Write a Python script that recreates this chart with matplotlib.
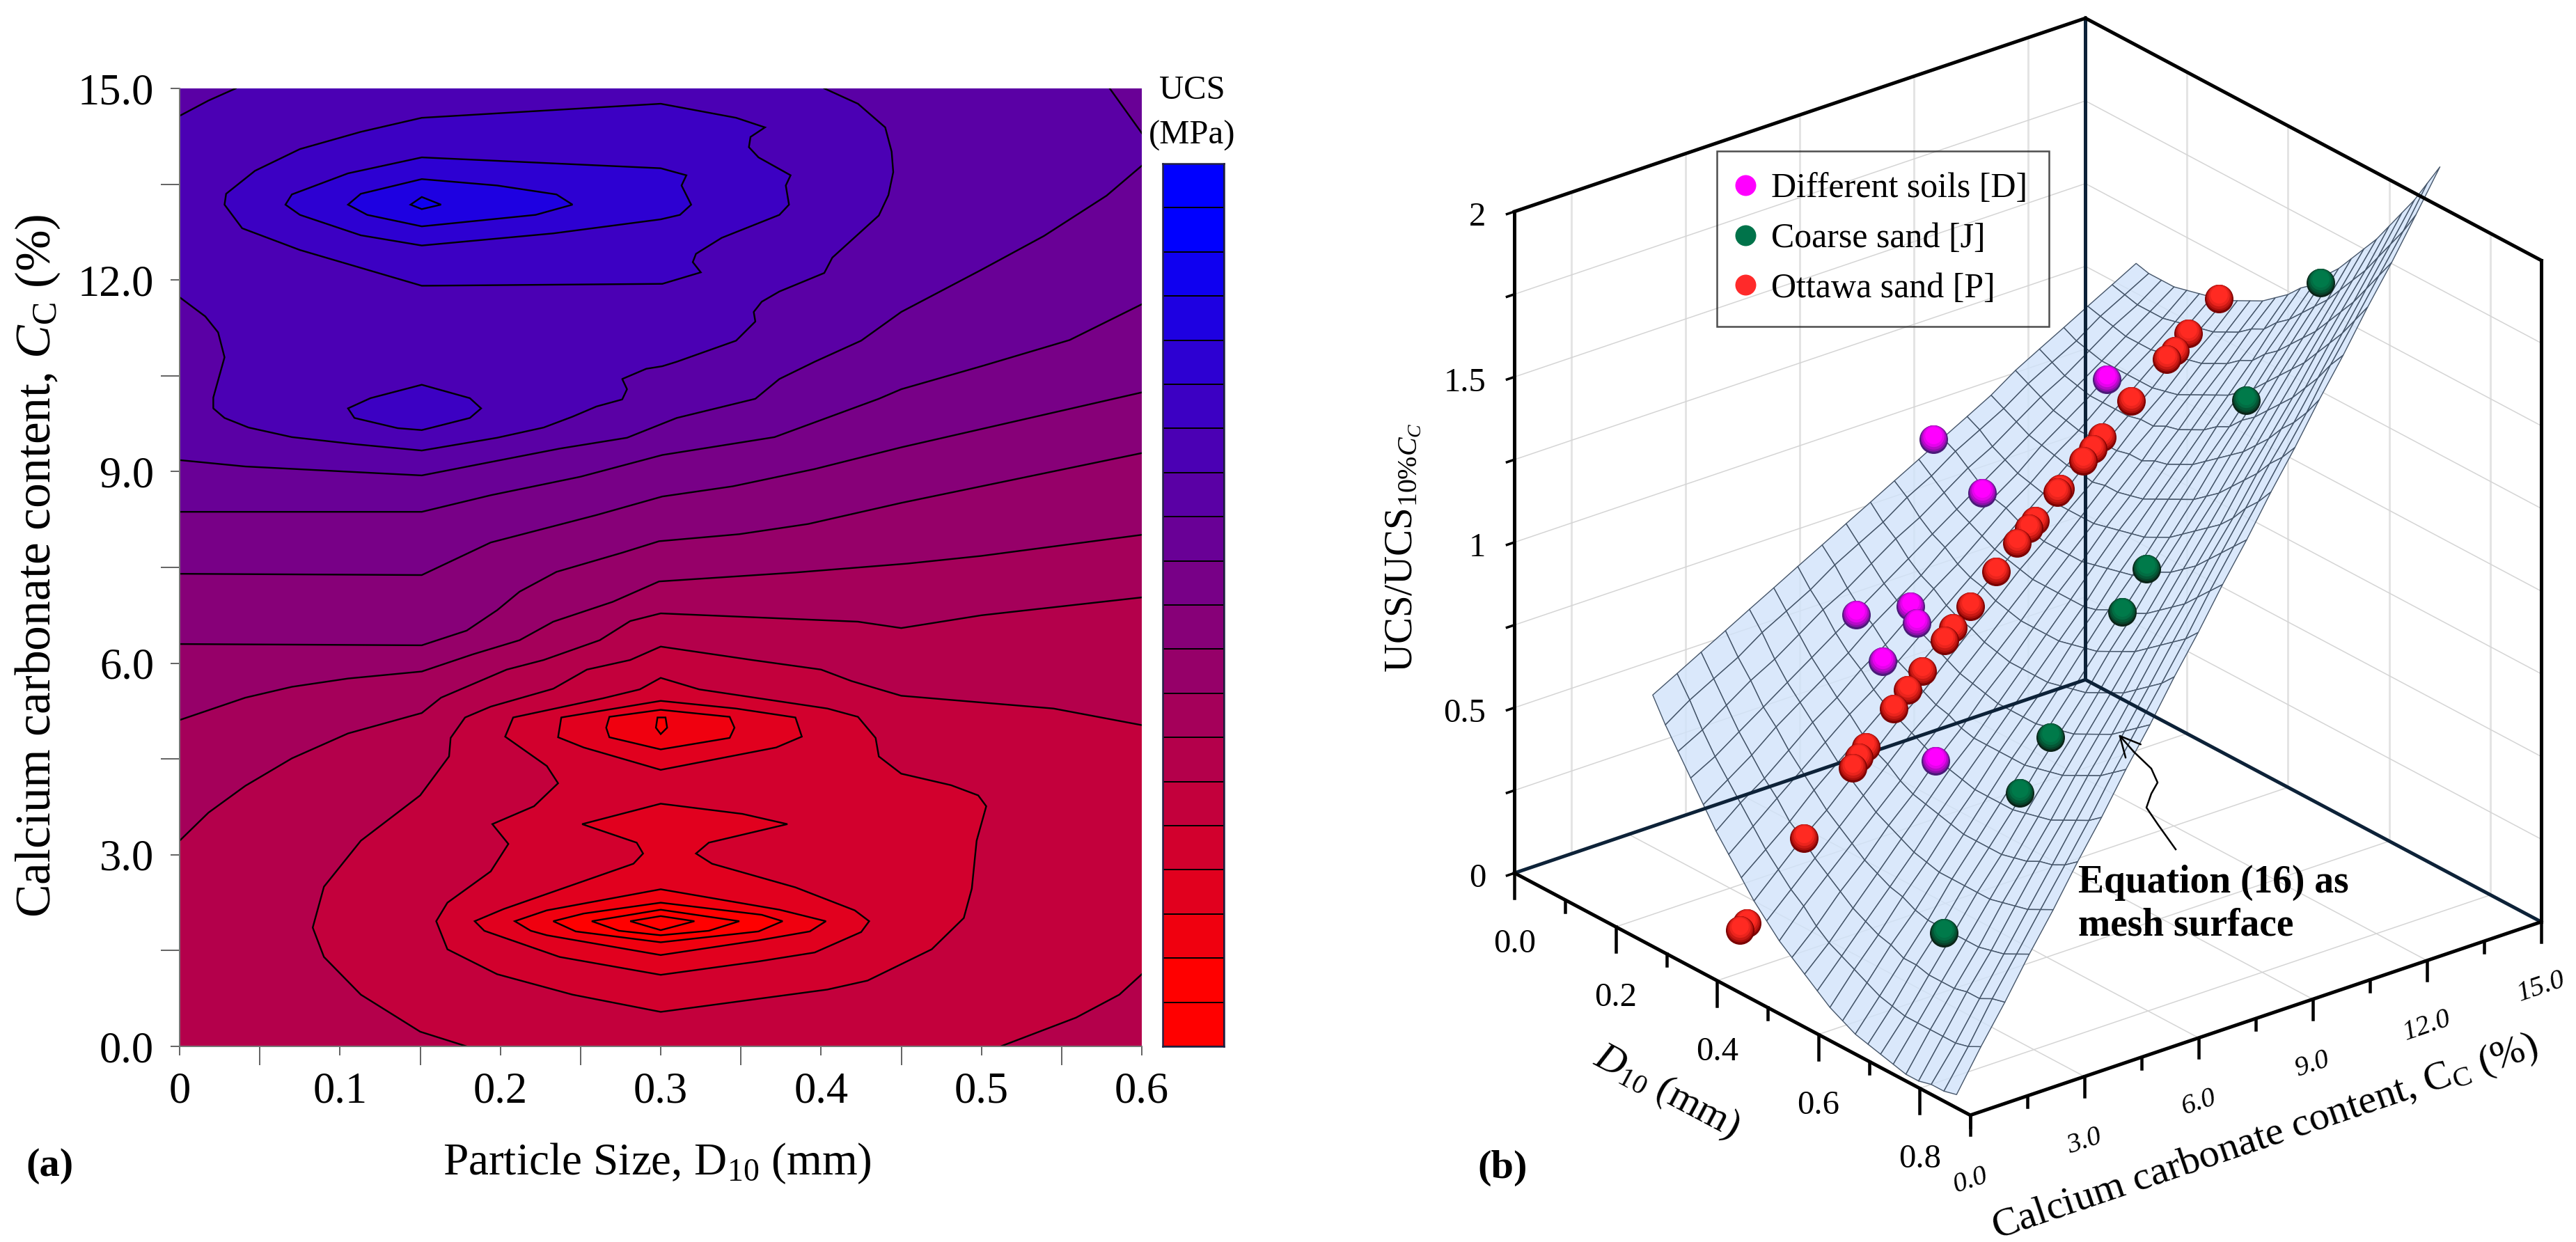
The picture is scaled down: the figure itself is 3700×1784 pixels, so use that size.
import numpy as np
import matplotlib
matplotlib.use("Agg")
import matplotlib.pyplot as plt
from matplotlib.colors import LinearSegmentedColormap, Normalize
from matplotlib.lines import Line2D
from matplotlib.path import Path
from mpl_toolkits.mplot3d import proj3d

plt.rcParams['font.family'] = ['Liberation Serif', 'DejaVu Serif']
plt.rcParams['mathtext.fontset'] = 'custom'
plt.rcParams['mathtext.rm'] = 'Liberation Serif'
plt.rcParams['mathtext.it'] = 'Liberation Serif:italic'
plt.rcParams['mathtext.bf'] = 'Liberation Serif:bold'

W, H = 3700, 1784
DPI = 200

# ---- panel (a): contour lines, (D10 mm, Cc %)
r2 = [(0, 9.18), (.041, 9.08), (.151, 8.94), (.237, 9.36), (.279, 9.53), (.310, 9.84), (.359, 10.14), (.374, 10.45),
      (.396, 10.72), (.425, 11.05), (.450, 11.50), (.500, 12.16), (.539, 12.69), (.578, 13.32), (.6, 13.79)]
r3 = [(0, 8.37), (.151, 8.37), (.194, 8.63), (.250, 8.92), (.301, 9.26), (.371, 9.54), (.436, 10.14), (.450, 10.29),
      (.500, 10.65), (.555, 11.06), (.6, 11.62)]
r4 = [(0, 7.40), (.151, 7.38), (.194, 7.89), (.260, 8.32), (.301, 8.61), (.345, 8.77), (.396, 9.04), (.450, 9.38),
      (.6, 10.24)]
r5 = [(0, 6.30), (.151, 6.28), (.179, 6.51), (.198, 6.83), (.212, 7.12), (.235, 7.43), (.276, 7.73), (.299, 7.91),
      (.349, 8.02), (.392, 8.18), (.450, 8.51), (.6, 9.29)]
r6 = [(0, 5.11), (.041, 5.46), (.070, 5.63), (.105, 5.76), (.151, 5.87), (.183, 6.14), (.212, 6.36), (.233, 6.65),
      (.270, 6.96), (.299, 7.28), (.384, 7.42), (.454, 7.56), (.500, 7.68), (.6, 8.01)]
r7 = [(0, 3.22), (.018, 3.66), (.041, 4.08), (.070, 4.51), (.105, 4.90), (.151, 5.22), (.163, 5.46), (.204, 5.90),
      (.227, 6.05), (.262, 6.36), (.281, 6.66), (.300, 6.78), (.423, 6.65), (.450, 6.55), (.500, 6.75), (.6, 7.03)]
r8 = [(.6, 5.03), (.545, 5.29), (.450, 5.49), (.419, 5.72), (.400, 5.90), (.357, 6.05), (.300, 6.26), (.281, 6.05),
      (.254, 5.90), (.233, 5.60), (.194, 5.32), (.178, 5.15), (.169, 4.83), (.168, 4.54), (.150, 3.93), (.113, 3.22),
      (.090, 2.50), (.083, 1.86), (.090, 1.40), (.113, .81), (.150, .23), (.179, 0)]
corner_br = [(.512, 0), (.559, .45), (.586, .81), (.6, 1.13)]
corner_tl = [(0, 14.57), (.018, 14.81), (.035, 15)]
corner_tr = [(.580, 15), (.6, 14.30)]
p5 = [(.402, 15), (.423, 14.76), (.440, 14.39), (.444, 14.01), (.445, 13.69), (.442, 13.33), (.436, 13.01),
      (.407, 12.35), (.402, 12.11), (.374, 11.82), (.363, 11.66), (.358, 11.50), (.359, 11.35), (.347, 11.05),
      (.310, 10.72), (.301, 10.65), (.291, 10.61), (.276, 10.45), (.279, 10.29), (.276, 10.13), (.260, 10.02),
      (.245, 9.86), (.227, 9.69), (.198, 9.53), (.151, 9.33), (.109, 9.43), (.070, 9.54), (.043, 9.69), (.028, 9.84),
      (.021, 9.99), (.021, 10.16), (.028, 10.79), (.024, 11.18), (.016, 11.43), (0, 11.73)]
p4 = [(.151, 14.54), (.300, 14.76), (.347, 14.54), (.365, 14.39), (.356, 14.24), (.355, 14.08), (.361, 13.92),
      (.381, 13.64), (.378, 13.48), (.380, 13.18), (.374, 13.02), (.338, 12.66), (.322, 12.41), (.320, 12.28),
      (.325, 12.12), (.301, 11.94), (.151, 11.91), (.075, 12.47), (.039, 12.81), (.028, 13.18), (.029, 13.35),
      (.047, 13.71), (.075, 14.05), (.113, 14.32)]
q4 = [(.151, 10.36), (.181, 10.15), (.188, 9.99), (.181, 9.84), (.159, 9.70), (.151, 9.65), (.136, 9.68), (.109, 9.84),
      (.105, 9.99), (.119, 10.15)]
p3 = [(.151, 13.92), (.300, 13.75), (.316, 13.64), (.313, 13.48), (.319, 13.18), (.312, 13.02), (.300, 12.95),
      (.233, 12.73), (.151, 12.54), (.113, 12.70), (.075, 13.02), (.066, 13.18), (.070, 13.34), (.105, 13.67)]
p2 = [(.151, 13.58), (.198, 13.48), (.235, 13.34), (.245, 13.18), (.222, 13.02), (.151, 12.84), (.117, 13.02),
      (.105, 13.18), (.113, 13.35)]
p1 = [(.151, 13.30), (.163, 13.18), (.151, 13.11), (.144, 13.18)]
s_loop = [(.300, 5.77), (.324, 5.59), (.404, 5.29), (.423, 5.16), (.434, 4.83), (.436, 4.54), (.450, 4.27), (.481, 4.09),
          (.498, 3.93), (.503, 3.76), (.497, 3.22), (.494, 2.47), (.489, 2.01), (.469, 1.52), (.429, 1.03), (.404, .89),
          (.300, .54), (.245, .81), (.198, 1.13), (.167, 1.52), (.160, 1.96), (.167, 2.25), (.194, 2.74), (.205, 3.17),
          (.195, 3.48), (.221, 3.76), (.236, 4.12), (.229, 4.39), (.203, 4.85), (.208, 5.15), (.264, 5.45), (.287, 5.59)]
u_top = [(.300, 5.41), (.347, 5.29), (.384, 5.15), (.388, 4.85), (.372, 4.68), (.300, 4.33), (.252, 4.68), (.236, 4.84),
         (.238, 5.15)]
v_top = [(.300, 5.27), (.343, 5.16), (.346, 4.99), (.343, 4.83), (.300, 4.65), (.268, 4.84), (.266, 4.99), (.268, 5.16)]
w_top = [(.298, 5.15), (.303, 5.15), (.304, 4.99), (.300, 4.89), (.297, 4.99)]
u_low = [(.300, 3.80), (.351, 3.64), (.379, 3.48), (.330, 3.19), (.322, 3.02), (.332, 2.86), (.384, 2.49), (.421, 2.13),
         (.430, 1.96), (.425, 1.79), (.396, 1.47), (.361, 1.33), (.300, 1.12), (.237, 1.40), (.190, 1.81), (.184, 1.96),
         (.202, 2.15), (.283, 2.86), (.289, 3.02), (.285, 3.19), (.251, 3.48)]
l1 = [(.300, 2.46), (.374, 2.14), (.403, 1.96), (.393, 1.80), (.361, 1.66), (.300, 1.43), (.229, 1.74), (.219, 1.81),
      (.209, 1.96), (.229, 2.13)]
l2 = [(.300, 2.25), (.363, 2.06), (.376, 1.96), (.361, 1.80), (.300, 1.63), (.247, 1.80), (.233, 1.96), (.252, 2.08)]
l3 = [(.300, 2.14), (.349, 1.96), (.330, 1.81), (.300, 1.74), (.274, 1.81), (.257, 1.96)]
l4 = [(.300, 2.04), (.321, 1.96), (.300, 1.82), (.281, 1.96)]

n_bands = 20

# ---- panel (b): surface table and points
surf_d10 = [.100, .125, .150, .175, .200, .225, .250, .275, .300, .325, .350, .375, .400,
            .425, .450, .475, .500, .525, .550, .575, .600, .625, .650, .675, .700]
surf_cc = [2.3, 2.94, 3.57, 4.21, 4.84, 5.48, 6.11, 6.75, 7.38, 8.02, 8.65,
           9.29, 9.92, 10.56, 11.19, 11.83, 12.46, 13.1, 13.73, 14.37, 15.0]
surf_z = [
    [.53, .57, .61, .65, .69, .73, .77, .81, .85, .89, .93, .97, 1.01, 1.05, 1.09, 1.14, 1.18, 1.22, 1.26, 1.30, 1.34],
    [.46, .51, .55, .59, .64, .68, .72, .77, .81, .85, .90, .94, .99, 1.03, 1.07, 1.12, 1.16, 1.20, 1.25, 1.29, 1.33],
    [.40, .44, .49, .54, .58, .63, .68, .72, .77, .82, .86, .91, .96, 1.00, 1.05, 1.10, 1.14, 1.19, 1.24, 1.28, 1.33],
    [.34, .38, .43, .48, .53, .58, .63, .68, .73, .78, .83, .88, .93, .98, 1.03, 1.08, 1.13, 1.18, 1.23, 1.28, 1.33],
    [.28, .33, .38, .44, .49, .54, .59, .65, .70, .75, .81, .86, .91, .96, 1.02, 1.07, 1.12, 1.18, 1.23, 1.28, 1.34],
    [.22, .28, .33, .39, .45, .50, .56, .61, .67, .73, .78, .84, .90, .95, 1.01, 1.06, 1.12, 1.18, 1.23, 1.29, 1.35],
    [.17, .23, .29, .35, .41, .47, .52, .58, .64, .70, .76, .82, .88, .94, 1.00, 1.06, 1.12, 1.18, 1.24, 1.30, 1.36],
    [.12, .18, .24, .31, .37, .43, .49, .56, .62, .68, .75, .81, .87, .93, 1.00, 1.06, 1.12, 1.18, 1.25, 1.31, 1.37],
    [.07, .14, .21, .27, .34, .40, .47, .53, .60, .67, .73, .80, .86, .93, .99, 1.06, 1.13, 1.19, 1.26, 1.32, 1.39],
    [.03, .10, .17, .24, .31, .38, .45, .51, .58, .65, .72, .79, .86, .93, 1.00, 1.07, 1.13, 1.20, 1.27, 1.34, 1.41],
    [-.01, .07, .14, .21, .28, .35, .43, .50, .57, .64, .71, .79, .86, .93, 1.00, 1.07, 1.15, 1.22, 1.29, 1.36, 1.43],
    [-.04, .03, .11, .18, .26, .33, .41, .48, .56, .63, .71, .79, .86, .94, 1.01, 1.09, 1.16, 1.24, 1.31, 1.39, 1.46],
    [-.07, .00, .08, .16, .24, .32, .40, .47, .55, .63, .71, .79, .87, .95, 1.02, 1.10, 1.18, 1.26, 1.34, 1.41, 1.49],
    [-.10, -.02, .06, .14, .22, .31, .39, .47, .55, .63, .71, .79, .88, .96, 1.04, 1.12, 1.20, 1.28, 1.36, 1.45, 1.53],
    [-.13, -.04, .04, .13, .21, .30, .38, .47, .55, .63, .72, .80, .89, .97, 1.06, 1.14, 1.23, 1.31, 1.40, 1.48, 1.56],
    [-.15, -.06, .03, .11, .20, .29, .38, .47, .55, .64, .73, .82, .90, .99, 1.08, 1.17, 1.25, 1.34, 1.43, 1.52, 1.61],
    [-.17, -.08, .01, .10, .20, .29, .38, .47, .56, .65, .74, .83, .92, 1.01, 1.10, 1.20, 1.29, 1.38, 1.47, 1.56, 1.65],
    [-.18, -.09, .01, .10, .20, .29, .38, .48, .57, .66, .76, .85, .95, 1.04, 1.13, 1.23, 1.32, 1.42, 1.51, 1.60, 1.70],
    [-.19, -.10, .00, .10, .20, .29, .39, .49, .58, .68, .78, .87, .97, 1.07, 1.16, 1.26, 1.36, 1.46, 1.55, 1.65, 1.75],
    [-.20, -.10, .00, .10, .20, .30, .40, .50, .60, .70, .80, .90, 1.00, 1.10, 1.20, 1.30, 1.40, 1.50, 1.60, 1.70, 1.80],
    [-.21, -.10, .00, .10, .21, .31, .41, .52, .62, .72, .83, .93, 1.03, 1.13, 1.24, 1.34, 1.44, 1.55, 1.65, 1.75, 1.86],
    [-.21, -.10, .01, .11, .22, .33, .43, .54, .64, .75, .86, .96, 1.07, 1.17, 1.28, 1.39, 1.49, 1.60, 1.70, 1.81, 1.92],
    [-.20, -.10, .01, .12, .23, .34, .45, .56, .67, .78, .89, 1.00, 1.11, 1.22, 1.33, 1.43, 1.54, 1.65, 1.76, 1.87, 1.98],
    [-.20, -.09, .03, .14, .25, .36, .47, .59, .70, .81, .92, 1.04, 1.15, 1.26, 1.37, 1.48, 1.60, 1.71, 1.82, 1.93, 2.05],
    [-.19, -.07, .04, .16, .27, .39, .50, .62, .73, .85, .96, 1.08, 1.19, 1.31, 1.42, 1.54, 1.65, 1.77, 1.88, 2.00, 2.12],
]
ottawa_cc = [13.44, 12.65, 12.3, 12.07, 11.14, 10.37, 10.13, 9.88, 9.27, 9.2, 8.62, 8.45, 8.15, 7.59, 6.91, 6.47, 6.24,
             5.65, 5.28, 4.91, 4.18, 4.0, 3.83, 2.55, 1.04, .87]
ottawa_r = [1.522, 1.447, 1.408, 1.393, 1.302, 1.223, 1.197, 1.170, 1.110, 1.101, 1.039, 1.022, .990, .925, .846, .798,
            .769, .700, .657, .614, .527, .503, .478, .316, .118, .103]
ottawa_d10 = 0.38
soils_cc = [13.56, 9.01, 10.29, 8.41, 6.98, 8.57, 7.68, 9.06]
soils_r = [1.086, 1.082, .871, .601, .630, .544, .463, .108]
soils_d10 = 0.15
coarse_cc = [13.2, 11.24, 8.62, 7.97, 6.1, 5.29, 3.3]
coarse_r = [1.759, 1.479, 1.072, .967, .660, .524, .178]
coarse_d10 = 0.6

fig = plt.figure(figsize=(W / DPI, H / DPI), dpi=DPI)


def px_rect(x0, x1, y0, y1):
    return [x0 / W, 1 - y1 / H, (x1 - x0) / W, (y1 - y0) / H]


def px_pts(v):
    return v * 72.0 / DPI


rb = LinearSegmentedColormap.from_list('rb', ['#ff0000', '#0000ff'])
band_norm = Normalize(vmin=1, vmax=18, clip=True)


def band(b):
    return rb(band_norm(b))


# ---- 3D panel first, so it sits below the 2D ones
ax3 = fig.add_axes([.5, .1, .4, .4 * W / H], projection='3d', computed_zorder=False)
ax3.set_proj_type('ortho')
ax3.view_init(elev=25.1, azim=-38.6)
ax3.set_box_aspect((1, 1, 1))
ax3.set_xlim(0, .9)
ax3.set_ylim(0, 15)
ax3.set_zlim(0, 2)
ax3.set_xticks([])
ax3.set_yticks([])
ax3.set_zticks([])
ax3.set_axis_off()


def to_px(x, y, z):
    X, Y, _ = proj3d.proj_transform(x, y, z, ax3.get_proj())
    return ax3.transData.transform((X, Y))


# fit the axes so the cube lands on the frame of the picture
target_l = np.array([2175.4, H - 1254.0])
target_r = np.array([3650.0, H - 1324.7])
for i in range(3):
    ax3.apply_aspect()
    a = to_px(0, 0, 0)
    b = to_px(.9, 15, 0)
    scale = np.linalg.norm(target_r - target_l) / np.linalg.norm(b - a)
    pos = ax3.get_position()
    new_w = pos.width * scale
    new_h = pos.height * scale
    ax3.set_position([pos.x0, pos.y0, new_w, new_h])
    ax3.apply_aspect()
    a = to_px(0, 0, 0)
    pos = ax3.get_position()
    ax3.set_position([pos.x0 + (target_l[0] - a[0]) / W, pos.y0 + (target_l[1] - a[1]) / H, pos.width, pos.height])

grid_col = '#e4e4e4'
thin_col = '#d4d4d4'
for c in [1.5, 4.5, 7.5, 10.5, 13.5]:
    ax3.plot([0, 0], [c, c], [0, 2], color=grid_col, lw=px_pts(3), zorder=1)
for x in [.2, .4, .6, .8]:
    ax3.plot([x, x], [15, 15], [0, 2], color=grid_col, lw=px_pts(3), zorder=1)
for z in np.arange(.25, 2, .25):
    ax3.plot([0, 0], [0, 15], [z, z], color=thin_col, lw=px_pts(1.5), zorder=1)
    ax3.plot([0, .9], [15, 15], [z, z], color=thin_col, lw=px_pts(1.5), zorder=1)
for c in [3, 6, 9, 12]:
    ax3.plot([0, .9], [c, c], [0, 0], color=thin_col, lw=px_pts(1.5), zorder=1)
for x in [.2, .4, .6, .8]:
    ax3.plot([x, x], [0, 15], [0, 0], color=thin_col, lw=px_pts(1.5), zorder=1)

X, Y = np.meshgrid(surf_d10, surf_cc, indexing='ij')
ax3.plot_surface(X, Y, np.array(surf_z), rstride=1, cstride=1, color=(.82, .89, .98, .8), edgecolor='#46566a',
                 linewidth=px_pts(1.4), shade=False, zorder=2)

frame = '#000000'
navy = '#0d2238'
lw_f = px_pts(5)
ax3.plot([0, 0], [15, 15], [0, 2], color=navy, lw=lw_f, zorder=3)
ax3.plot([0, 0], [0, 15], [0, 0], color=navy, lw=lw_f, zorder=3)
ax3.plot([0, .9], [15, 15], [0, 0], color=navy, lw=lw_f, zorder=3)
ax3.plot([0, 0], [0, 0], [0, 2], color=frame, lw=lw_f, zorder=3)
ax3.plot([.9, .9], [15, 15], [0, 2], color=frame, lw=lw_f, zorder=3)
ax3.plot([0, 0], [0, 15], [2, 2], color=frame, lw=lw_f, zorder=3)
ax3.plot([0, .9], [15, 15], [2, 2], color=frame, lw=lw_f, zorder=3)
ax3.plot([0, .9], [0, 0], [0, 0], color=frame, lw=lw_f, zorder=3)
ax3.plot([.9, .9], [0, 15], [0, 0], color=frame, lw=lw_f, zorder=3)

# ticks, all hand drawn since the box is not the mplot3d one
lw_t = px_pts(4.5)
for i, x in enumerate(np.arange(0, .91, .1)):
    dz = .076 if i % 2 == 0 else .036
    ax3.plot([x, x], [0, 0], [0, -dz], color='k', lw=lw_t, zorder=3)
for x in [0, .2, .4, .6, .8]:
    ax3.text(x, 0, -.215, '%.1f' % x, fontsize=17.5, ha='center', va='center')
for i, c in enumerate(np.arange(0, 15.1, 1.5)):
    dz = .06 if i % 2 == 0 else .034
    ax3.plot([.9, .9], [c, c], [0, -dz], color='k', lw=lw_t, zorder=3)
for c in [0, 3, 6, 9, 12, 15]:
    ax3.text(.9, c, -.197, '%.1f' % c, zdir='y', fontsize=14.5, style='italic', ha='center', va='center')
for z in np.arange(0, 2.01, .25):
    ax3.plot([0, 0], [0, -.2], [z, z], color='k', lw=px_pts(3.5), zorder=3)
for z, lab in zip([0, .5, 1, 1.5, 2], ['0', '0.5', '1', '1.5', '2']):
    ax3.text(0, -.75, z + .012, lab, fontsize=17.5, ha='right', va='center')

# zdir sets the slant of these, a rotation keyword would be ignored in 3D
ax3.text(.30, 0, -.42, '$D_{10}$ (mm)', zdir='x', fontsize=21, ha='center', va='center')
ax3.text(.9, 7.74, -.371, 'Calcium carbonate content, C$_{\\mathrm{C}}$ (%)', zdir='y', fontsize=21,
         ha='center', va='center')
ax3.text(0, -2.92, 1.097, 'UCS/UCS$_{10\\%C_C}$', zdir='z', fontsize=20.5, ha='center', va='center')

# sphere look: stacked circles from dark rim up to the bright top
sphere_r = px_pts(20.5)
layers = [(0, 1.0, 0.0), (.08, .92, .35), (.15, .85, .6), (.22, .74, .85), (.28, .6, 1.0)]


def draw_spheres(d10, ccs, rs, dark, bright, zo):
    dark = np.array(matplotlib.colors.to_rgb(dark))
    bright = np.array(matplotlib.colors.to_rgb(bright))
    for k, (c, r) in enumerate(zip(ccs, rs)):
        for off, rad, mix in layers:
            col = dark + (bright - dark) * mix
            s = (2 * sphere_r * (off + rad)) ** 2
            ax3.scatter([d10], [c], [r], s=s, marker=Path.circle((0, off), rad), color=[col], linewidths=0,
                        depthshade=False, zorder=zo + k * .001)


draw_spheres(soils_d10, soils_cc, soils_r, '#4a1a78', '#ff00ff', 5)
draw_spheres(coarse_d10, coarse_cc, coarse_r, '#0a2418', '#007a4a', 6)
draw_spheres(ottawa_d10, ottawa_cc, ottawa_r, '#7a0000', '#ff2a22', 7)

handles = [
    Line2D([], [], ls='', marker='o', ms=px_pts(30), mfc='#ff00ff', mec='none'),
    Line2D([], [], ls='', marker='o', ms=px_pts(30), mfc='#00734a', mec='none'),
    Line2D([], [], ls='', marker='o', ms=px_pts(30), mfc='#ff2a2a', mec='none'),
]
leg = fig.legend(handles, ['Different soils [D]', 'Coarse sand [J]', 'Ottawa sand [P]'], loc='upper left',
                 bbox_to_anchor=(2466 / W, 1 - 217 / H), fontsize=18, frameon=True, fancybox=False,
                 edgecolor='#222222', labelspacing=.5, borderpad=.62, handletextpad=.53, handlelength=.4,
                 borderaxespad=0)
leg.get_frame().set_linewidth(px_pts(2.5))
leg.get_frame().set_facecolor('none')

# ---- panel (a)
ax = fig.add_axes(px_rect(258, 1640, 127, 1503))
ax.set_xlim(0, .6)
ax.set_ylim(0, 15)
ax.set_facecolor(band(6))
lw_c = px_pts(2.4)


def above(path):
    return list(path) + [(.6, 15), (0, 15)]


def fill_closed(path, b):
    xs, ys = zip(*path)
    ax.fill(xs, ys, facecolor=band(b), edgecolor='k', linewidth=lw_c)


for path, b in [(r7, 7), (r6, 8), (r5, 9), (r4, 10), (r3, 11), (r2, 12)]:
    xs, ys = zip(*above(path))
    ax.fill(xs, ys, facecolor=band(b), edgecolor='none')
    ax.plot(*zip(*path), color='k', lw=lw_c)

xs, ys = zip(*(p5 + corner_tl))
ax.fill(xs, ys, facecolor=band(13), edgecolor='none')
ax.plot(*zip(*p5), color='k', lw=lw_c)
ax.plot(*zip(*corner_tl), color='k', lw=lw_c)
xs, ys = zip(*(corner_tr + [(.6, 15)]))
ax.fill(xs, ys, facecolor=band(11), edgecolor='none')
ax.plot(*zip(*corner_tr), color='k', lw=lw_c)

fill_closed(p4, 14)
fill_closed(q4, 14)
fill_closed(p3, 15)
fill_closed(p2, 16)
fill_closed(p1, 17)

xs, ys = zip(*(r8 + corner_br))
ax.fill(xs, ys, facecolor=band(5), edgecolor='none')
ax.plot(*zip(*r8), color='k', lw=lw_c)
ax.plot(*zip(*corner_br), color='k', lw=lw_c)
fill_closed(s_loop, 4)
fill_closed(u_top, 3)
fill_closed(v_top, 2)
fill_closed(w_top, 1)
fill_closed(u_low, 3)
fill_closed(l1, 2)
fill_closed(l2, 1)
fill_closed(l3, 0)
fill_closed(l4, 0)

ax.spines['top'].set_visible(False)
ax.spines['right'].set_visible(False)
for sp in ['left', 'bottom']:
    ax.spines[sp].set_color('#777777')
    ax.spines[sp].set_linewidth(px_pts(2))
ax.set_xticks([0, .1, .2, .3, .4, .5, .6])
ax.set_xticklabels(['0', '0.1', '0.2', '0.3', '0.4', '0.5', '0.6'])
ax.set_xticks([.05, .15, .25, .35, .45, .55], minor=True)
ax.set_yticks([0, 3, 6, 9, 12, 15])
ax.set_yticklabels(['0.0', '3.0', '6.0', '9.0', '12.0', '15.0'])
ax.set_yticks([1.5, 4.5, 7.5, 10.5, 13.5], minor=True)
ax.tick_params(which='major', length=px_pts(13), width=px_pts(2), color='#666666', labelsize=22.5,
               pad=px_pts(24))
ax.tick_params(which='minor', length=px_pts(27), width=px_pts(2), color='#666666')
ax.tick_params(axis='y', which='major', pad=px_pts(24))

# ---- colour key
cax = fig.add_axes(px_rect(1670, 1758, 235, 1503))
cax.pcolormesh([0, 1], np.arange(n_bands + 1), np.arange(n_bands).reshape(-1, 1), cmap=rb, norm=band_norm,
               edgecolors='k', linewidth=px_pts(2))
cax.set_xlim(0, 1)
cax.set_ylim(0, n_bands)
cax.set_xticks([])
cax.set_yticks([])
for sp in cax.spines.values():
    sp.set_color('#222244')
    sp.set_linewidth(px_pts(2.5))

# ---- text and the arrow, in picture pixels
ov = fig.add_axes([0, 0, 1, 1], zorder=10)
ov.set_xlim(0, W)
ov.set_ylim(H, 0)
ov.set_axis_off()

arrow_x = [3125, 3100, 3083, 3090, 3099, 3090, 3065]
arrow_y = [1220, 1185, 1160, 1140, 1124, 1104, 1080]

ov.text(1712, 130, 'UCS', fontsize=17.5, ha='center', va='center')
ov.text(1712, 195, '(MPa)', fontsize=17.5, ha='center', va='center')
ov.text(944, 1671, 'Particle Size, D$_{10}$ (mm)', fontsize=23.5, ha='center', va='center')
ov.text(54, 813, 'Calcium carbonate content, $C_{\\mathrm{C}}$ (%)', fontsize=25.8, rotation=90, ha='center',
        va='center')
ov.text(72, 1675, '(a)', fontsize=21, fontweight='bold', ha='center', va='center')
ov.text(2158, 1678, '(b)', fontsize=21, fontweight='bold', ha='center', va='center')
ov.text(2985, 1268, 'Equation (16) as', fontsize=20, fontweight='bold', ha='left', va='center')
ov.text(2985, 1330, 'mesh surface', fontsize=20, fontweight='bold', ha='left', va='center')
ov.plot(arrow_x, arrow_y, color='k', lw=px_pts(2.5))
ov.annotate('', xy=(3043, 1055), xytext=(arrow_x[-1], arrow_y[-1]),
            arrowprops=dict(arrowstyle='->', color='k', lw=px_pts(2.5), mutation_scale=26, shrinkA=0, shrinkB=0))

fig.savefig('out.png', dpi=DPI)
